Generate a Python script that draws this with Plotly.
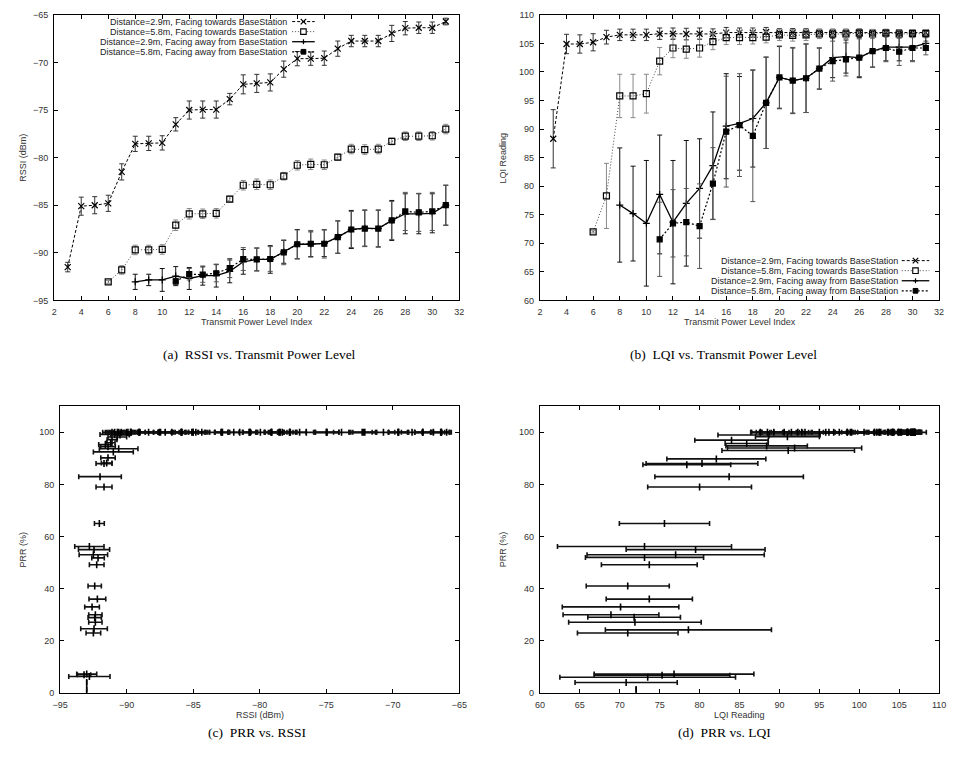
import plotly.graph_objects as go

W, H = 953, 765

# ---------------- Panel (a): RSSI vs transmit power level ----------------
pwr_t29 = [3, 4, 5, 6, 7, 8, 9, 10, 11, 12, 13, 14, 15, 16, 17, 18, 19, 20, 21, 22, 23, 24, 25, 26, 27, 28, 29, 30, 31]
pwr_t58 = [6, 7, 8, 9, 10, 11, 12, 13, 14, 15, 16, 17, 18, 19, 20, 21, 22, 23, 24, 25, 26, 27, 28, 29, 30, 31]
pwr_a29 = [8, 9, 10, 11, 12, 13, 14, 15, 16, 17, 18, 19, 20, 21, 22, 23, 24, 25, 26, 27, 28, 29, 30, 31]
pwr_a58 = [11, 12, 13, 14, 15, 16, 17, 18, 19, 20, 21, 22, 23, 24, 25, 26, 27, 28, 29, 30, 31]

rssi_t29 = [-91.5, -85.1, -85.0, -84.8, -81.5, -78.55, -78.5, -78.45, -76.5, -75.0, -74.95, -74.95, -73.85,
            -72.3, -72.2, -72.1, -70.7, -69.6, -69.6, -69.55, -68.55, -67.75, -67.75, -67.75, -66.95, -66.4,
            -66.35, -66.35, -65.7]
rssi_t29_err = [0.5, 0.95, 0.9, 0.85, 0.85, 0.8, 0.75, 0.75, 0.7, 0.95, 0.9, 0.9, 0.6, 1.0, 0.95, 0.9, 0.85,
                0.75, 0.7, 0.75, 0.8, 0.6, 0.6, 0.6, 0.85, 0.7, 0.6, 0.6, 0.35]
rssi_t58 = [-93.05, -91.8, -89.7, -89.7, -89.65, -87.1, -85.9, -85.9, -85.85, -84.35, -82.9, -82.8, -82.85,
            -81.95, -80.8, -80.7, -80.75, -79.95, -79.1, -79.15, -79.1, -78.3, -77.75, -77.75, -77.7, -77.0]
rssi_t58_err = [0.15, 0.45, 0.5, 0.5, 0.5, 0.55, 0.55, 0.5, 0.5, 0.3, 0.5, 0.55, 0.5, 0.4, 0.5, 0.55, 0.5,
                0.3, 0.5, 0.5, 0.5, 0.35, 0.45, 0.45, 0.45, 0.5]
rssi_a29 = [-93.05, -92.85, -92.85, -92.45, -92.7, -92.4, -92.4, -91.95, -90.95, -90.7, -90.7, -89.9, -89.1,
            -89.1, -89.0, -88.35, -87.55, -87.4, -87.45, -86.6, -85.9, -85.9, -85.85, -85.0]
rssi_a29_err = [0.8, 0.6, 1.2, 1.0, 1.15, 1.0, 1.2, 1.2, 1.3, 1.2, 1.45, 1.2, 1.55, 1.3, 1.4, 1.7, 2.0, 1.9,
                1.95, 2.1, 2.1, 2.1, 2.05, 2.1]
rssi_a58 = [-93.0, -92.25, -92.3, -92.15, -91.6, -90.65, -90.7, -90.65, -89.95, -89.1, -89.05, -89.05, -88.35,
            -87.55, -87.45, -87.45, -86.6, -85.65, -85.75, -85.65, -85.0]
rssi_a58_err = [0.3, 0.6, 0.8, 0.9, 1.0, 1.2, 1.2, 1.3, 1.3, 1.5, 1.4, 1.5, 1.7, 1.9, 1.9, 1.9, 2.0, 2.0, 2.0,
                2.0, 2.1]

# ---------------- Panel (b): LQI vs transmit power level ----------------
lqi_t29 = [88.3, 104.9, 104.9, 105.2, 106.1, 106.5, 106.5, 106.5, 106.7, 106.7, 106.65, 106.7, 106.65, 106.9,
           106.9, 106.9, 107.0, 106.9, 106.9, 106.9, 106.9, 106.9, 106.9, 106.9, 106.9, 106.9, 106.9, 106.9, 106.9]
lqi_t29_err = [5.1, 1.7, 1.6, 1.5, 1.2, 1.0, 1.0, 1.0, 1.0, 1.0, 1.0, 1.0, 0.9, 0.9, 0.8, 0.8, 0.8, 0.7, 0.7,
               0.7, 0.6, 0.6, 0.6, 0.6, 0.5, 0.5, 0.5, 0.5, 0.5]
lqi_t58 = [72.0, 78.3, 95.8, 95.8, 96.2, 101.9, 104.2, 104.0, 104.2, 105.3, 106.0, 106.0, 106.0, 106.1, 106.5,
           106.4, 106.5, 106.65, 106.65, 106.65, 106.8, 106.65, 106.8, 106.65, 106.7, 106.7]
lqi_t58_err = [0.2, 5.7, 3.8, 3.8, 3.4, 2.4, 1.7, 1.6, 1.6, 1.4, 1.2, 1.2, 1.1, 1.0, 1.0, 1.0, 1.0, 0.8, 0.8,
               0.8, 0.8, 0.8, 0.7, 0.7, 0.7, 0.7]
lqi_a29 = [76.7, 75.2, 73.5, 78.55, 73.7, 77.0, 79.6, 83.6, 90.5, 91.0, 91.85, 94.6, 99.05, 98.5, 98.9, 100.6,
           102.5, 102.7, 102.5, 103.65, 104.35, 104.35, 104.35, 105.0]
lqi_a29_err = [10.0, 8.3, 11.0, 10.4, 10.8, 11.0, 8.7, 9.4, 9.2, 8.2, 8.5, 8.0, 5.4, 5.7, 6.0, 3.6, 3.5, 2.9,
               3.5, 2.8, 2.4, 2.4, 2.4, 1.2]
lqi_a58 = [70.7, 73.5, 73.7, 73.0, 80.45, 89.55, 90.7, 88.8, 94.6, 99.05, 98.5, 98.9, 100.6, 101.9, 102.2,
           102.5, 103.65, 104.2, 103.55, 104.2, 104.2]
lqi_a58_err = [6.5, 5.9, 5.9, 7.4, 6.3, 9.7, 9.0, 11.5, 8.0, 5.5, 5.8, 6.0, 3.6, 3.5, 2.9, 3.3, 2.8, 2.4, 2.4,
               2.4, 1.2]

# ---------------- Panel (c): PRR vs RSSI ----------------
prr_c = [1.3, 4.0, 7.2, 6.3, 7.0, 23.0, 24.6, 27.1, 28.9, 30.0, 33.0, 36.0, 41.0, 49.2, 51.8, 53.0, 55.0, 56.2,
         65.0, 79.0, 83.0, 88.0, 88.2, 90.2, 92.5, 93.7, 94.5, 95.3, 96.0, 97.2, 98.2, 99.0, 99.2,
         100, 100, 100, 100, 100, 100, 100, 100, 100, 100, 100, 100, 100, 100, 100, 100, 100, 100, 100, 100,
         100, 100, 100, 100, 100, 100, 100, 100, 100, 100, 100, 100, 100, 100, 100, 100, 100, 100, 100, 100,
         100, 100, 100, 100, 100, 100, 100, 100, 100, 100, 100, 100, 100, 100, 100, 100, 100, 100, 100, 100,
         100, 100, 100, 100, 100, 100, 100, 100]
rssi_c = [-93.0, -93.0, -93.0, -92.8, -93.2, -92.5, -92.45, -92.35, -92.4, -92.35, -92.6, -92.2, -92.4, -92.25,
          -92.15, -92.5, -92.45, -92.8, -92.05, -91.7, -92.0, -91.7, -91.5, -91.4, -91.0, -90.6, -91.4, -91.6,
          -91.2, -91.1, -90.7, -90.5, -90.9,
          -91.1, -90.9, -90.7, -90.6, -90.4, -90.0, -89.9, -89.7, -89.7, -89.65, -89.1, -89.05, -89.0, -88.35,
          -87.55, -87.45, -87.1, -86.6, -85.9, -85.9, -85.85, -85.85, -85.1, -85.0, -85.0, -84.8, -84.35,
          -82.9, -82.85, -82.8, -81.95, -81.5, -80.8, -80.75, -80.7, -79.95, -79.15, -79.1, -79.1, -78.55,
          -78.5, -78.45, -78.3, -77.75, -77.75, -77.7, -77.0, -76.5, -75.0, -74.95, -74.95, -73.85, -72.3,
          -72.2, -72.1, -70.7, -69.6, -69.6, -69.55, -68.55, -67.75, -67.75, -67.75, -66.95, -66.4, -66.35,
          -66.35, -65.95]
rssi_c_err = [0.0, 0.0, 0.75, 1.55, 0.5, 0.55, 1.0, 0.5, 0.5, 0.5, 0.55, 0.63, 0.5, 0.55, 0.47, 1.07, 1.17, 1.1,
              0.37, 0.6, 1.6, 0.6, 0.4, 0.54, 1.5, 1.45, 0.55, 0.5, 0.33, 0.37, 0.7, 0.7, 1.1,
              0.5, 0.6, 0.7, 1.2, 0.9, 1.0, 1.3, 0.5, 0.5, 0.5, 1.5, 1.4, 1.4, 1.7, 2.0, 1.9, 0.55, 2.0, 2.1,
              0.55, 2.1, 0.5, 0.95, 2.1, 0.9, 0.85, 0.3, 0.5, 0.5, 0.55, 0.4, 0.85, 0.5, 0.5, 0.55, 0.3, 0.5,
              0.5, 0.5, 0.8, 0.75, 0.75, 0.35, 0.45, 0.45, 0.45, 0.5, 0.7, 0.95, 0.9, 0.9, 0.6, 1.0, 0.95, 0.9,
              0.85, 0.75, 0.7, 0.75, 0.8, 0.6, 0.6, 0.6, 0.85, 0.7, 0.6, 0.6, 0.35]

# ---------------- Panel (d): PRR vs LQI ----------------
prr_d = [1.3, 4.0, 6.0, 6.8, 7.2, 23.0, 24.2, 27.1, 29.0, 30.0, 33.0, 36.0, 41.0, 49.2, 52.0, 53.0, 55.0, 56.2,
         65.0, 79.0, 83.0, 88.0, 87.6, 89.8, 93.0, 94.0, 94.8, 95.7, 97.0, 98.3, 99.0,
         100, 100, 100, 100, 100, 100, 100, 100, 100, 100, 100, 100, 100, 100, 100, 100, 100, 100, 100, 100,
         100, 100, 100, 100, 100, 100, 100, 100, 100, 100, 100, 100, 100, 100, 100, 100, 100, 100, 100, 100,
         100, 100, 100, 100, 100, 100, 100, 100, 100, 100, 100, 100, 100, 100, 100, 100, 100]
lqi_d = [72.05, 70.8, 73.5, 75.3, 76.8, 71.0, 78.6, 71.9, 71.8, 68.9, 70.1, 73.7, 71.0, 73.7, 73.1, 77.0, 79.5,
         73.1, 75.6, 80.0, 83.7, 80.3, 78.4, 82.1, 91.1, 91.9, 88.4, 85.9, 84.0, 91.0, 88.7,
         87.6, 88.5, 89.3, 90.6, 91.5, 92.3, 92.8, 93.2, 95.0, 95.8, 96.2, 96.8, 97.5, 98.5, 99.05, 98.5,
         98.9, 100.6, 101.9, 101.9, 102.2, 102.5, 102.7, 102.5, 103.65, 104.2, 104.35, 103.55, 104.2, 104.0,
         104.2, 104.9, 104.9, 105.0, 105.2, 105.3, 106.0, 106.0, 106.0, 106.1, 106.1, 106.4, 106.5, 106.5,
         106.5, 106.65, 106.65, 106.7, 106.7, 106.8, 106.9, 106.9, 107.0, 106.9, 106.9, 106.9, 107.0, 107.2]
lqi_d_err = [0.0, 6.4, 11.0, 8.5, 10.0, 6.3, 10.4, 8.3, 5.8, 6.0, 7.3, 5.4, 5.2, 6.0, 7.4, 11.1, 8.7, 10.9,
             5.65, 6.5, 9.3, 7.0, 5.5, 6.2, 8.3, 8.4, 5.1, 2.7, 4.6, 4.0, 6.4,
             1.2, 2.0, 2.8, 3.5, 4.0, 4.5, 5.0, 5.5, 6.0, 6.5, 5.0, 6.4, 5.0, 4.5, 5.4, 5.7, 6.0, 3.6, 2.4,
             3.5, 2.9, 3.5, 2.9, 3.4, 2.8, 2.4, 2.4, 2.4, 1.7, 1.6, 1.6, 1.7, 1.6, 1.2, 1.5, 1.4, 1.2, 1.2,
             1.1, 1.2, 1.0, 1.0, 1.0, 1.0, 1.0, 0.8, 0.8, 1.0, 1.0, 0.8, 0.9, 0.8, 0.8, 0.7, 0.6, 0.5, 1.4, 1.2]

legend_labels = ["Distance=2.9m, Facing towards BaseStation",
                 "Distance=5.8m, Facing towards BaseStation",
                 "Distance=2.9m, Facing away from BaseStation",
                 "Distance=5.8m, Facing away from BaseStation"]

captions = ["(a)  RSSI vs. Transmit Power Level", "(b)  LQI vs. Transmit Power Level",
            "(c)  PRR vs. RSSI", "(d)  PRR vs. LQI"]

# ---------------- helpers ----------------
def px(x):
    return x / W

def py(y):
    return 1 - y / H

SANS = "Liberation Sans, Arial, Helvetica, sans-serif"
SERIF = "Liberation Serif, Times New Roman, serif"

styles = [
    dict(dash="3px,2px", lc="#000", w=1.0, sym="x-thin-open", ms=6, ec="#333"),
    dict(dash="1px,2px", lc="#444", w=1.0, sym="square-open", ms=6, ec="#888"),
    dict(dash="solid", lc="#000", w=1.3, sym="cross-thin-open", ms=5, ec="#111"),
    dict(dash="2px,2px", lc="#000", w=1.2, sym="square", ms=5, ec="#555"),
]

fig = go.Figure()

def add_series(xs, ys, es, st, xa, ya):
    fig.add_trace(go.Scatter(
        x=xs, y=ys, mode="lines+markers", xaxis=xa, yaxis=ya, showlegend=False,
        line=dict(color=st["lc"], width=st["w"], dash=st["dash"]),
        marker=dict(symbol=st["sym"], size=st["ms"], color="#000",
                    line=dict(color="#000", width=1.2)),
        error_y=dict(type="data", array=es, visible=True, color=st["ec"], thickness=1.0, width=2.5),
    ))

# panel a
add_series(pwr_t29, rssi_t29, rssi_t29_err, styles[0], "x", "y")
add_series(pwr_t58, rssi_t58, rssi_t58_err, styles[1], "x", "y")
add_series(pwr_a29, rssi_a29, rssi_a29_err, styles[2], "x", "y")
add_series(pwr_a58, rssi_a58, rssi_a58_err, styles[3], "x", "y")
# panel b
add_series(pwr_t29, lqi_t29, lqi_t29_err, styles[0], "x2", "y2")
add_series(pwr_t58, lqi_t58, lqi_t58_err, styles[1], "x2", "y2")
add_series(pwr_a29, lqi_a29, lqi_a29_err, styles[2], "x2", "y2")
add_series(pwr_a58, lqi_a58, lqi_a58_err, styles[3], "x2", "y2")

# panel c, d
def add_hbars(xs, ys, es, xa, ya):
    fig.add_trace(go.Scatter(
        x=xs, y=ys, mode="markers", xaxis=xa, yaxis=ya, showlegend=False,
        marker=dict(symbol="line-ns-open", size=5, color="#000", line=dict(color="#000", width=1.6)),
        error_x=dict(type="data", array=es, visible=True, color="#111", thickness=1.6, width=2.5),
    ))

add_hbars(rssi_c, prr_c, rssi_c_err, "x3", "y3")
add_hbars(lqi_d, prr_d, lqi_d_err, "x4", "y4")

# ---------------- axes ----------------
tickfont = dict(family=SANS, size=9, color="#333")

def axis(domain, rng, dtick=None, tickvals=None):
    d = dict(domain=domain, range=rng, showline=True, linecolor="#000", linewidth=1.3, mirror="allticks",
             ticks="inside", ticklen=4, tickwidth=1, tickcolor="#000", showgrid=False, zeroline=False,
             tickfont=tickfont, ticklabelstandoff=3)
    if dtick is not None:
        d["dtick"] = dtick
        d["tick0"] = rng[0]
    if tickvals is not None:
        d["tickmode"] = "array"
        d["tickvals"] = tickvals
    return d

xa_ab = [px(47), px(459)]
xb_ab = [px(541), px(947)]
y_top = [py(299.3), py(10)]
y_bot = [py(697), py(406.6)]

fig.update_layout(
    xaxis=dict(axis(xa_ab, [2, 32], dtick=2), anchor="y"),
    yaxis=dict(axis(y_top, [-95, -65], dtick=5), anchor="x"),
    xaxis2=dict(axis(xb_ab, [2, 32], dtick=2), anchor="y2"),
    yaxis2=dict(axis(y_top, [60, 110], dtick=5), anchor="x2"),
    xaxis3=dict(axis([px(53), px(459)], [-95, -65], dtick=5), anchor="y3"),
    yaxis3=dict(axis(y_bot, [0, 110], tickvals=[0, 20, 40, 60, 80, 100]), anchor="x3"),
    xaxis4=dict(axis(xb_ab, [60, 110], dtick=5), anchor="y4"),
    yaxis4=dict(axis(y_bot, [0, 110], tickvals=[0, 20, 40, 60, 80, 100]), anchor="x4"),
)

# ---------------- annotations: axis titles, captions, legends ----------------
ann = []
def text(x, y, s, size=9, family=SANS, angle=0, xanchor="center", color="#333"):
    ann.append(dict(x=px(x), y=py(y), xref="paper", yref="paper", text=s, showarrow=False,
                    xanchor=xanchor, yanchor="middle", textangle=angle, borderpad=0,
                    font=dict(family=family, size=size, color=color)))

text(253, 321, "Transmit Power Level Index")
text(744, 321, "Transmit Power Level Index")
text(15, 155, "RSSI (dBm)", angle=-90)
text(503, 155, "LQI Reading", angle=-90)
text(256, 719, "RSSI (dBm)")
text(744, 719, "LQI Reading")
text(15, 552, "PRR (%)", angle=-90)
text(503, 552, "PRR (%)", angle=-90)

text(256, 354, captions[0], size=13.5, family=SERIF, color="#000")
text(728, 354, captions[1], size=13.5, family=SERIF, color="#000")
text(253, 737, captions[2], size=13.5, family=SERIF, color="#000")
text(729, 737, captions[3], size=13.5, family=SERIF, color="#000")

shapes = []
def legend_block(x_text_right, x0, x1, rows):
    for i, (lab, yy) in enumerate(zip(legend_labels, rows)):
        text(x_text_right, yy, lab, size=9, xanchor="right", color="#222")
        st = styles[i]
        shapes.append(dict(type="line", xref="paper", yref="paper", x0=px(x0), x1=px(x1), y0=py(yy), y1=py(yy),
                           line=dict(color=st["lc"], width=st["w"], dash=st["dash"])))
        cx = (x0 + x1) / 2
        r = 2.8
        if i == 0:
            for a, b in [(-r, -r), (-r, r)]:
                shapes.append(dict(type="line", xref="paper", yref="paper", x0=px(cx + a), x1=px(cx - a),
                                   y0=py(yy + b), y1=py(yy - b), line=dict(color="#000", width=1.2)))
        elif i == 1:
            shapes.append(dict(type="rect", xref="paper", yref="paper", x0=px(cx - r), x1=px(cx + r),
                               y0=py(yy + r), y1=py(yy - r), line=dict(color="#000", width=1.1),
                               fillcolor="white"))
        elif i == 2:
            shapes.append(dict(type="line", xref="paper", yref="paper", x0=px(cx - 2.5), x1=px(cx + 2.5),
                               y0=py(yy), y1=py(yy), line=dict(color="#000", width=1.2)))
            shapes.append(dict(type="line", xref="paper", yref="paper", x0=px(cx), x1=px(cx),
                               y0=py(yy - 2.5), y1=py(yy + 2.5), line=dict(color="#000", width=1.2)))
        else:
            shapes.append(dict(type="rect", xref="paper", yref="paper", x0=px(cx - 2.4), x1=px(cx + 2.4),
                               y0=py(yy + 2.4), y1=py(yy - 2.4), line=dict(color="#000", width=1),
                               fillcolor="#000"))

legend_block(285, 289, 312, [16.8, 27.0, 37.2, 47.4])
legend_block(906, 909, 937, [259.0, 269.2, 279.4, 289.6])

fig.update_layout(
    width=W, height=H, margin=dict(l=0, r=0, t=0, b=0),
    paper_bgcolor="white", plot_bgcolor="white",
    annotations=ann, shapes=shapes, showlegend=False,
)

fig.write_html("out.html", config={"displayModeBar": False},
               post_script="document.body.style.margin='0px';")
